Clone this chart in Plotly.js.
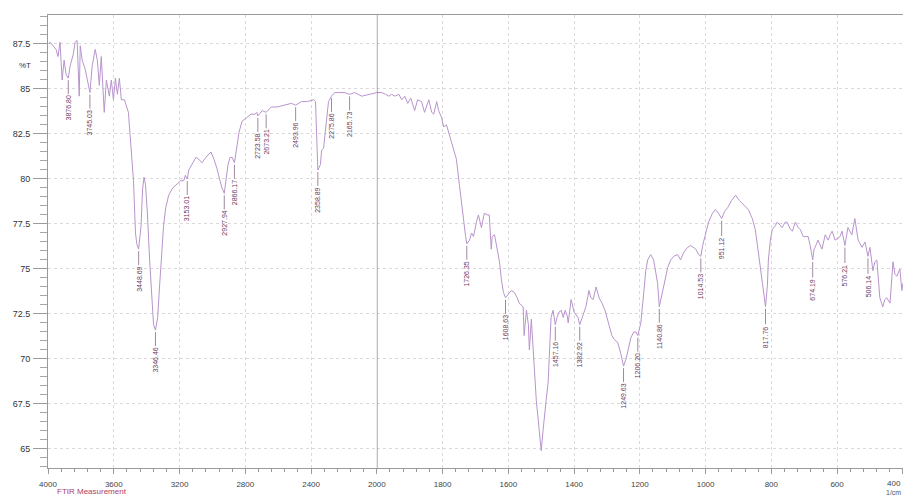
<!DOCTYPE html>
<html>
<head>
<meta charset="utf-8">
<script src="https://cdn.plot.ly/plotly-3.0.1.min.js"></script>
<style>
  html, body { margin: 0; padding: 0; background: #ffffff; }
  #chart { width: 903px; height: 495px; }
</style>
</head>
<body>
<div id="chart"></div>
<script>
// FTIR transmittance spectrum (wavenumber in 1/cm, %T)
const wavenumber = [
  3995, 3988, 3969, 3951, 3939, 3927, 3914, 3902, 3890, 3876.80, 3865, 3847, 3835, 3823, 3810, 3804,
  3792, 3774, 3745.03, 3731, 3713, 3700, 3688, 3676, 3658, 3645, 3627, 3615, 3602, 3590, 3578, 3566,
  3554, 3535, 3511, 3498, 3480, 3468, 3460, 3448.69, 3434, 3425, 3416, 3407, 3395, 3382, 3370, 3358,
  3346.46, 3333, 3321, 3309, 3297, 3284, 3266, 3242, 3217, 3193, 3174, 3165, 3153.01, 3144, 3119, 3101,
  3083, 3064, 3040, 3021, 3009, 2991, 2973, 2954, 2942, 2927.94, 2917, 2905, 2893, 2880, 2866.17, 2856,
  2838, 2820, 2795, 2765, 2740, 2730, 2723.58, 2697, 2673.21, 2642, 2606, 2563, 2520, 2493.96, 2459, 2422,
  2385, 2373, 2364, 2358.89, 2343, 2336, 2324, 2306, 2294, 2275.86, 2257, 2232, 2196, 2165.73, 2135, 2092,
  2049, 2000,
  1985, 1973, 1964, 1955, 1945, 1933, 1924, 1915, 1906, 1897, 1885, 1876, 1864, 1855, 1842, 1833,
  1827, 1818, 1812, 1803, 1797, 1788, 1779, 1773, 1764, 1758, 1749, 1742, 1736, 1730, 1726.35, 1718,
  1712, 1706, 1697, 1691, 1682, 1673, 1664, 1658, 1652, 1649, 1642, 1633, 1627, 1621, 1615, 1608.63,
  1597, 1591, 1582, 1573, 1567, 1561, 1555, 1552, 1545, 1539, 1536, 1530, 1524, 1521, 1515, 1509,
  1503, 1500, 1494, 1491, 1485, 1479, 1473, 1470, 1464, 1457.16, 1452, 1446, 1439, 1433, 1427, 1421,
  1418, 1412, 1409, 1400, 1391, 1388, 1382.92, 1373, 1364, 1355, 1349, 1342, 1333, 1324, 1315, 1306,
  1294, 1285, 1279, 1267, 1258, 1249.63, 1242, 1236, 1227, 1218, 1212, 1206.20, 1197, 1188, 1182, 1176,
  1167, 1158, 1152, 1146, 1140.86, 1130, 1121, 1115, 1106, 1097, 1085, 1076, 1067, 1055, 1045, 1036,
  1030, 1021, 1014.53, 1009, 1000, 991, 979, 970, 961, 951.12, 942, 933, 921, 909, 897, 885,
  870, 858, 849, 843, 833, 827, 817.76, 812, 809, 803, 797, 788, 782, 773, 767, 758,
  752, 742, 736, 727, 718, 712, 703, 694, 688, 682, 674.19, 670, 667, 658, 652, 646,
  636, 627, 621, 615, 606, 600, 591, 585, 576.21, 567, 561, 555, 546, 539, 536, 530,
  524, 515, 506.14, 500, 491, 485, 479, 470, 461, 455, 449, 439, 430, 424, 418, 409,
  403, 400
];

const transmittance = [
  87.5, 87.6, 87.4, 87.2, 86.8, 87.6, 85.5, 86.6, 85.8, 85.6, 86.3, 86.9, 87.6, 87.7, 84.6, 87.4,
  86.6, 86.1, 84.8, 86.3, 87.2, 86.6, 85.2, 86.8, 83.7, 85.5, 84.6, 85.5, 84.4, 85.6, 84.7, 85.6,
  84.4, 84.4, 83.7, 82.2, 79.9, 77.0, 76.4, 76.1, 77.4, 79.4, 80.1, 79.7, 78.0, 75.5, 73.3, 71.9,
  71.6, 72.3, 74.1, 76.1, 77.4, 78.4, 79.1, 79.5, 79.7, 79.9, 79.9, 80.2, 80.0, 80.5, 80.9, 81.2,
  81.1, 80.9, 81.2, 81.4, 81.5, 81.1, 80.6, 79.9, 79.5, 79.2, 79.9, 80.8, 81.2, 81.2, 80.9, 81.6,
  82.6, 83.2, 83.4, 83.6, 83.6, 83.7, 83.5, 83.8, 83.7, 84.0, 84.0, 84.1, 84.2, 84.1, 84.3, 84.3,
  84.4, 84.3, 82.2, 80.5, 80.8, 81.6, 81.7, 83.3, 84.3, 84.6, 84.8, 84.8, 84.8, 84.7, 84.8, 84.6,
  84.7, 84.8,
  84.8, 84.7, 84.6, 84.7, 84.6, 84.7, 84.4, 84.6, 84.2, 84.5, 83.8, 84.4, 84.3, 83.7, 84.4, 83.7,
  83.6, 84.3, 83.8, 83.4, 82.9, 83.0, 82.4, 82.0, 81.5, 81.1, 79.7, 78.6, 77.4, 76.8, 76.4, 76.6,
  77.0, 76.8, 77.6, 78.0, 77.3, 78.1, 78.0, 78.0, 76.1, 76.8, 76.9, 76.1, 75.4, 74.4, 73.7, 73.4,
  73.7, 73.8, 73.7, 73.4, 73.1, 73.0, 72.9, 71.3, 72.7, 71.9, 70.5, 72.2, 70.5, 69.0, 67.7, 66.6,
  65.1, 64.9, 66.1, 66.8, 67.7, 68.7, 71.1, 72.3, 72.7, 71.9, 72.3, 72.6, 72.7, 72.3, 72.7, 72.4,
  72.0, 73.0, 73.3, 72.6, 72.4, 72.3, 71.9, 72.4, 72.9, 73.8, 73.4, 73.3, 74.0, 73.4, 73.1, 72.7,
  71.8, 71.3, 71.1, 70.9, 70.3, 69.6, 70.0, 70.5, 71.2, 71.5, 71.5, 71.3, 72.0, 73.7, 74.9, 75.5,
  75.8, 75.5, 74.9, 74.2, 72.9, 73.8, 74.7, 75.1, 75.5, 75.7, 75.8, 75.5, 75.9, 76.2, 76.3, 76.2,
  76.1, 75.8, 75.7, 76.3, 77.0, 77.6, 78.1, 78.3, 78.1, 77.8, 78.2, 78.4, 78.8, 79.1, 78.8, 78.6,
  78.3, 77.8, 77.2, 76.4, 75.2, 74.2, 72.9, 74.1, 75.5, 76.6, 77.2, 77.4, 77.6, 77.4, 77.3, 77.6,
  77.6, 77.2, 77.1, 77.6, 77.3, 77.2, 76.8, 76.8, 76.8, 76.3, 75.5, 76.1, 76.2, 76.6, 76.3, 76.1,
  76.9, 76.6, 76.9, 77.1, 76.6, 76.7, 76.8, 77.1, 76.3, 77.3, 77.1, 76.9, 77.8, 77.1, 76.6, 76.4,
  76.2, 76.5, 75.7, 76.2, 74.9, 75.4, 75.5, 73.4, 72.9, 73.3, 73.4, 73.1, 75.4, 74.7, 74.6, 75.0,
  73.8, 74.2
];

// Picked peaks (wavenumbers printed under the spectrum)
const peakWavenumbers = [
  3876.80, 3745.03, 3448.69, 3346.46, 3153.01, 2927.94, 2866.17, 2723.58, 2673.21, 2493.96,
  2358.89, 2275.86, 2165.73, 1726.35, 1608.63, 1457.16, 1382.92, 1249.63, 1206.20, 1140.86,
  1014.53, 951.12, 817.76, 674.19, 576.21, 506.14
];

const xTicksHigh = [4000, 3600, 3200, 2800, 2400];
const xTicksLow = [2000, 1800, 1600, 1400, 1200, 1000, 800, 600, 400];

// Split at 2000 1/cm: the low-wavenumber part is drawn on a 2x expanded axis
const highX = [], highY = [], lowX = [], lowY = [];
wavenumber.forEach((w, i) => {
  if (w >= 2000) { highX.push(w); highY.push(transmittance[i]); }
  if (w <= 2000) { lowX.push(w); lowY.push(transmittance[i]); }
});

const lineStyle = { color: '#b894cc', width: 1 };
const traces = [
  { x: highX, y: highY, xaxis: 'x', yaxis: 'y', type: 'scatter', mode: 'lines', line: lineStyle, hoverinfo: 'skip' },
  { x: lowX, y: lowY, xaxis: 'x2', yaxis: 'y', type: 'scatter', mode: 'lines', line: lineStyle, hoverinfo: 'skip' }
];

const peakAnnotations = peakWavenumbers.map(w => {
  const i = wavenumber.indexOf(w);
  return {
    x: w, y: transmittance[i],
    xref: w >= 2000 ? 'x' : 'x2', yref: 'y',
    text: w.toFixed(2), textangle: -90,
    showarrow: true, arrowhead: 0, arrowwidth: 0.8, arrowcolor: '#8a6a86',
    ax: 0, ay: 30, standoff: 2,
    font: { family: 'Liberation Sans, Arial, sans-serif', size: 7, color: '#6e3a62' }
  };
});

const splitFrac = 2000 / 5200;
const axisFont = { family: 'Liberation Sans, Arial, sans-serif', size: 8, color: '#444' };
const commonX = {
  showline: true, linecolor: '#9a9a9a', linewidth: 1, mirror: true,
  ticks: 'outside', ticklen: 5, tickcolor: '#9a9a9a', tickwidth: 1,
  showgrid: true, gridcolor: '#dadada', griddash: 'dot', gridwidth: 1,
  zeroline: false, tickfont: axisFont, ticklabelstandoff: 3,
  anchor: 'y', fixedrange: true
};

// the last tick label sits on the right page edge, so it is written as an
// annotation aligned to that edge
const lastTick = xTicksLow[xTicksLow.length - 1];

const layout = {
  width: 903, height: 495,
  margin: { l: 48, r: 0, t: 15, b: 27 },
  paper_bgcolor: '#ffffff', plot_bgcolor: '#ffffff',
  showlegend: false,
  xaxis: Object.assign({}, commonX, {
    domain: [0, splitFrac], range: [4000, 2000],
    tickvals: xTicksHigh, ticktext: xTicksHigh.map(String),
    minor: { dtick: 80, tick0: 4000, ticks: 'outside', ticklen: 3, tickcolor: '#9a9a9a', showgrid: false }
  }),
  xaxis2: Object.assign({}, commonX, {
    domain: [splitFrac, 1], range: [2000, 399.5],
    tickvals: xTicksLow, ticktext: xTicksLow.map(v => v === lastTick ? '' : String(v)),
    minor: { dtick: 40, tick0: 2000, ticks: 'outside', ticklen: 3, tickcolor: '#9a9a9a', showgrid: false }
  }),
  yaxis: {
    range: [63.94, 89.11], dtick: 2.5, tick0: 65,
    showline: true, linecolor: '#9a9a9a', linewidth: 1,
    ticks: 'outside', ticklen: 14, tickcolor: '#9a9a9a', tickwidth: 1,
    minor: { dtick: 0.5, ticks: 'outside', ticklen: 7, tickcolor: '#a8a8a8', showgrid: false },
    showgrid: true, gridcolor: '#dadada', griddash: 'dot', gridwidth: 1,
    zeroline: false, ticklabelstandoff: 1,
    tickfont: { family: 'Liberation Sans, Arial, sans-serif', size: 9, color: '#333' },
    fixedrange: true
  },
  shapes: [
    { type: 'line', xref: 'x2', yref: 'paper', x0: 2000, x1: 2000, y0: 0, y1: 1,
      line: { color: '#4a4a4a', width: 1 } }
  ],
  annotations: peakAnnotations.concat([
    { xref: 'paper', yref: 'paper', x: 1, y: -0.034, xanchor: 'right', yanchor: 'middle', showarrow: false,
      text: String(lastTick), font: axisFont },
    { xref: 'paper', yref: 'y', x: 0, y: 86.3, xanchor: 'right', xshift: -15, showarrow: false,
      text: '%T', font: { family: 'Liberation Sans, Arial, sans-serif', size: 8, color: '#333' } },
    { xref: 'paper', yref: 'paper', x: 0.008, y: -0.052, xanchor: 'left', yanchor: 'middle', showarrow: false,
      text: 'FTIR Measurement', font: { family: 'Liberation Sans, Arial, sans-serif', size: 8, color: '#b04060' } },
    { xref: 'paper', yref: 'paper', x: 1, y: -0.054, xanchor: 'right', yanchor: 'middle', showarrow: false,
      text: '1/cm', font: { family: 'Liberation Sans, Arial, sans-serif', size: 7, color: '#555' } }
  ])
};

Plotly.newPlot('chart', traces, layout, { staticPlot: true, displayModeBar: false });
</script>
</body>
</html>
